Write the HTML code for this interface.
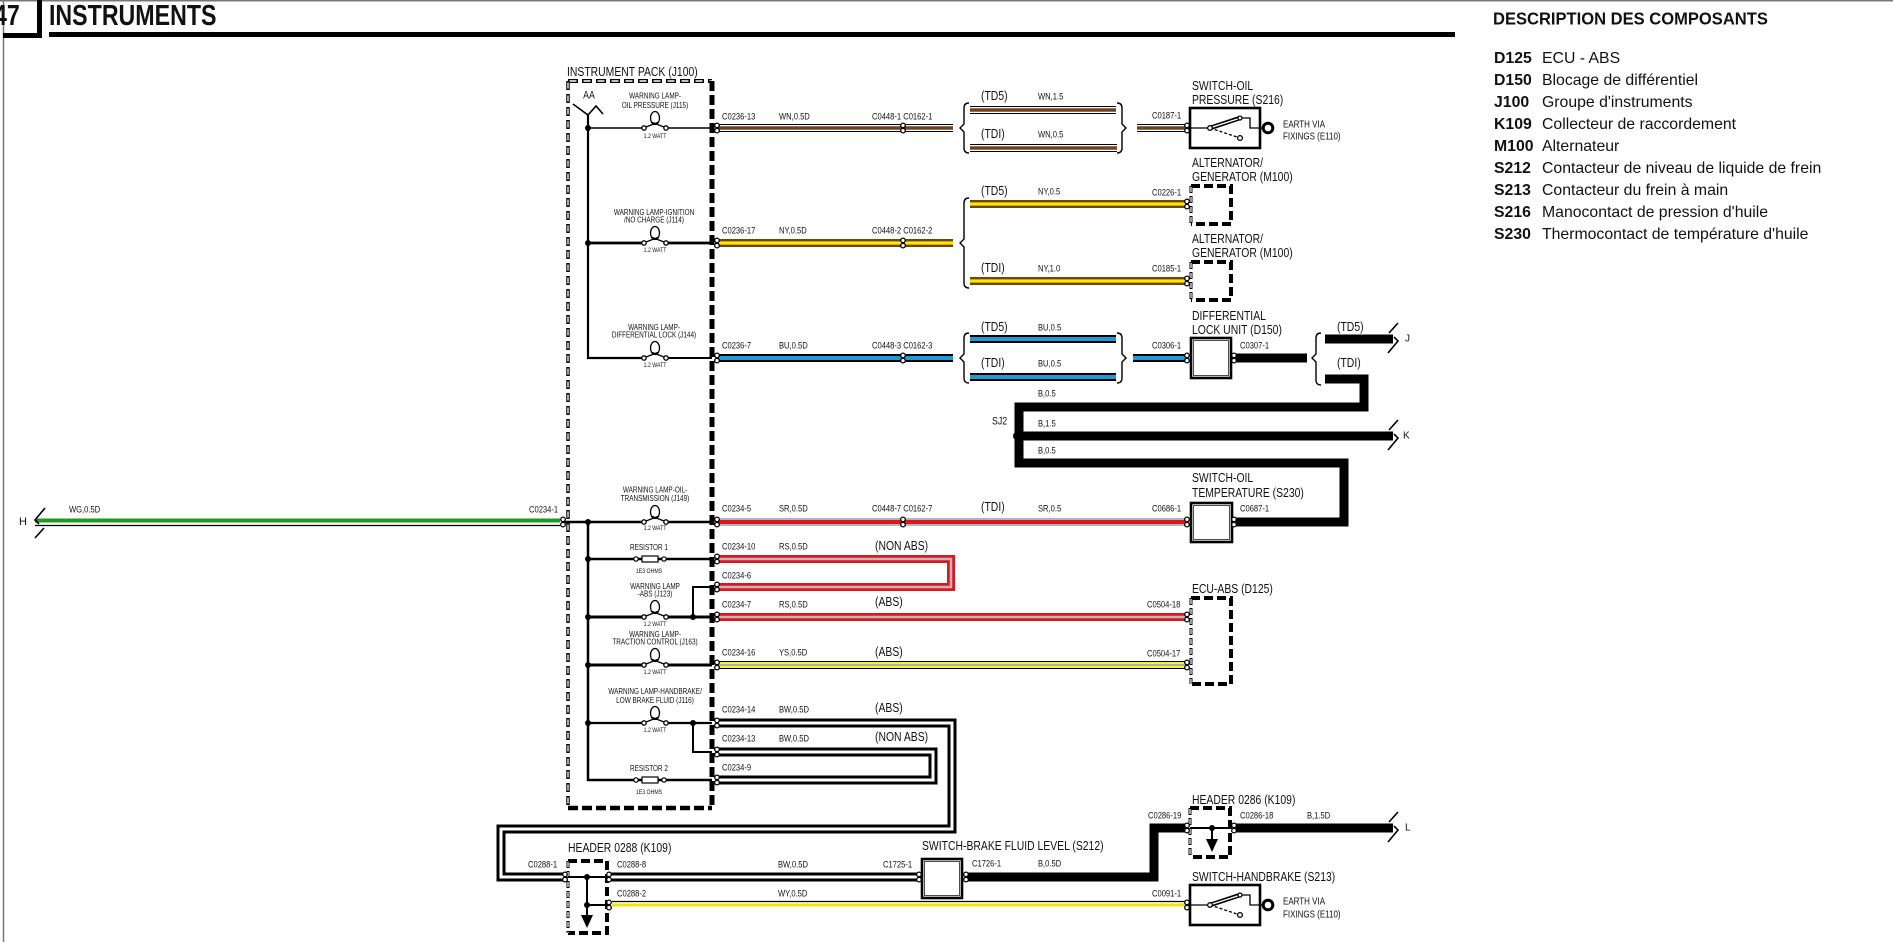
<!DOCTYPE html>
<html><head><meta charset="utf-8">
<style>
html,body{margin:0;padding:0;background:#fff;}
svg{display:block}
text{font-family:"Liberation Sans",Arial,sans-serif;fill:#111;dominant-baseline:central}
.n{transform-box:fill-box;transform-origin:0 50%;transform:scaleX(.8)}
.c{text-anchor:middle;transform-box:fill-box;transform-origin:50% 50%;transform:scaleX(.8)}
.d{transform-box:fill-box;transform-origin:0 50%;transform:scaleX(.92)}
.s9{font-size:9.5px}
.s10{font-size:10px}
.s13{font-size:13px}
.s8{font-size:8px}
.s6{font-size:6.5px}
.li{font-size:15.8px}
.lb{font-size:15.8px;font-weight:bold}
</style></head><body>
<svg width="1893" height="942" viewBox="0 0 1893 942" xmlns="http://www.w3.org/2000/svg">
<defs>
<g id="cn"><circle cx="0" cy="-2.6" r="2.3" fill="#fff" stroke="#000" stroke-width="1.3"/><circle cx="0" cy="2.6" r="2.3" fill="#fff" stroke="#000" stroke-width="1.3"/></g>
<g id="lamp" fill="none" stroke="#000" stroke-width="1.3"><path d="M-9,-1L4,-6M9,-1L-4,-6"/><ellipse cx="0" cy="-10" rx="4.5" ry="6.5"/><circle cx="-11" cy="0" r="2.2" fill="#fff"/><circle cx="11" cy="0" r="2.2" fill="#fff"/></g>
<g id="res" stroke="#000" stroke-width="1.2"><rect x="-8" y="-3" width="16" height="6" fill="#fff"/><circle cx="-14" cy="0" r="2.2" fill="#fff"/><circle cx="14" cy="0" r="2.2" fill="#fff"/></g>
<g id="endL" fill="none" stroke="#000" stroke-width="1.6"><path d="M10,-14L0,-2L4,2M9,6L0,16"/></g>
<g id="endR" fill="none" stroke="#000" stroke-width="1.6"><path d="M-10,14L0,2L-4,-2M-9,-6L0,-16"/></g>
<g id="sw" fill="none" stroke="#000">
<rect x="0" y="-20" width="70" height="40" fill="#fff" stroke-width="2.6"/>
<path d="M0,0H20" stroke-width="1.3"/>
<path d="M20,0L50,-10" stroke-width="4.5"/>
<path d="M21,-0.5L49,-9.5" stroke="#fff" stroke-width="1.4"/>
<path d="M20,0L50,10" stroke-width="1.3" stroke-dasharray="3 2"/>
<circle cx="20" cy="0" r="2.3" fill="#fff" stroke-width="1.3"/>
<circle cx="50" cy="-10" r="2" fill="#fff" stroke-width="1.3"/>
<circle cx="50" cy="10" r="2.4" fill="#fff" stroke-width="1.3"/>
<path d="M52,-10H60V0H73" stroke-width="1.3"/>
<circle cx="78" cy="0" r="4.8" fill="#fff" stroke-width="3"/>
</g>
</defs>
<rect width="1893" height="942" fill="#fff"/>
<path d="M0,0.75H1893" stroke="#777" stroke-width="1.5"/>
<path d="M3.5,0V942" stroke="#777" stroke-width="1.5"/>
<rect x="37" y="0" width="5" height="38" fill="#000"/>
<rect x="3" y="33" width="39" height="5" fill="#000"/>
<rect x="49" y="32" width="1406" height="5" fill="#000"/>
<text x="-6" y="15" class="n" style="font-size:29px;font-weight:bold">47</text>
<text x="49" y="15" class="n" style="font-size:29px;font-weight:bold">INSTRUMENTS</text>

<text x="1493" y="18.5" class="d" style="font-size:18px;font-weight:bold">DESCRIPTION DES COMPOSANTS</text>
<g>
<text x="1494" y="58.5" class="lb">D125</text><text x="1542" y="58.5" class="li">ECU - ABS</text>
<text x="1494" y="80.5" class="lb">D150</text><text x="1542" y="80.5" class="li">Blocage de différentiel</text>
<text x="1494" y="102.5" class="lb">J100</text><text x="1542" y="102.5" class="li">Groupe d'instruments</text>
<text x="1494" y="124.5" class="lb">K109</text><text x="1542" y="124.5" class="li">Collecteur de raccordement</text>
<text x="1494" y="146.5" class="lb">M100</text><text x="1542" y="146.5" class="li">Alternateur</text>
<text x="1494" y="168.5" class="lb">S212</text><text x="1542" y="168.5" class="li">Contacteur de niveau de liquide de frein</text>
<text x="1494" y="190.5" class="lb">S213</text><text x="1542" y="190.5" class="li">Contacteur du frein à main</text>
<text x="1494" y="212.5" class="lb">S216</text><text x="1542" y="212.5" class="li">Manocontact de pression d'huile</text>
<text x="1494" y="234.5" class="lb">S230</text><text x="1542" y="234.5" class="li">Thermocontact de température d'huile</text>
</g>

<g fill="none" stroke-linecap="butt" stroke-linejoin="miter">
<!-- instrument pack internal wiring -->
<g stroke="#000">
<path d="M573,104L588,115L596,106L603,114" stroke-width="1.6"/>
<path d="M588,115V358H644" stroke-width="2.2"/>
<path d="M588,128H644M666,128H712" stroke-width="1.6"/>
<path d="M588,243H644M666,243H712" stroke-width="2.8"/>
<path d="M666,358H712" stroke-width="2"/>
<path d="M563,522H644M666,522H712" stroke-width="2.5"/>
<path d="M588,522V780H712" stroke-width="2.5"/>
<path d="M588,559H712" stroke-width="2.5"/>
<path d="M712,587H693V617" stroke-width="2"/>
<path d="M588,617H644M666,617H712" stroke-width="3"/>
<path d="M588,665H644M666,665H712" stroke-width="3"/>
<path d="M588,723H644M666,723H712" stroke-width="2.2"/>
<path d="M693,723V752H712" stroke-width="2"/>
</g>

<!-- instrument pack box -->
<path d="M568,81H712" stroke="#000" stroke-width="4" stroke-dasharray="10 4"/>
<path d="M568,81H712" stroke="#fff" stroke-width="1.4" stroke-dasharray="7 7" stroke-dashoffset="-1.5"/>
<path d="M568,81V808" stroke="#000" stroke-width="3.5" stroke-dasharray="9 4"/>
<path d="M568,81V808" stroke="#fff" stroke-width="1.3" stroke-dasharray="6 7" stroke-dashoffset="-1.5"/>
<path d="M712,81V808" stroke="#000" stroke-width="5" stroke-dasharray="10 4"/>
<path d="M568,808H712" stroke="#000" stroke-width="4.5" stroke-dasharray="10 4"/>

<!-- WN -->
<path d="M717,128H953M970,110H1116M970,148H1117M1137,128H1185" stroke="#000" stroke-width="8"/>
<path d="M717,128H953M970,110H1116M970,148H1117M1137,128H1185" stroke="#fff" stroke-width="6"/>
<path d="M717,128H953M970,110H1116M970,148H1117M1137,128H1185" stroke="#70431a" stroke-width="3.5"/>
<!-- NY -->
<path d="M717,243H953M970,204H1185M970,281H1185" stroke="#6e4410" stroke-width="8"/>
<path d="M717,243H953M970,204H1185M970,281H1185" stroke="#ffe800" stroke-width="3.2"/>
<!-- BU -->
<path d="M717,358H953M970,339H1116M970,377H1116M1133,358H1185" stroke="#000" stroke-width="8"/>
<path d="M717,358H953M970,339H1116M970,377H1116M1133,358H1185" stroke="#1e9ad6" stroke-width="4"/>
<!-- SR -->
<path d="M717,522H1185" stroke="#a9b7c4" stroke-width="8"/>
<path d="M717,522H1185" stroke="#e3141b" stroke-width="4"/>
<!-- RS -->
<path d="M717,559H951V587H717M717,617H1185" stroke="#e3141b" stroke-width="8"/>
<path d="M717,559H951V587H717M717,617H1185" stroke="#b9b9c0" stroke-width="2.5"/>
<!-- YS -->
<path d="M717,665H1185" stroke="#000" stroke-width="8"/>
<path d="M717,665H1185" stroke="#f5f03a" stroke-width="6"/>
<path d="M717,665H1185" stroke="#a8b0b8" stroke-width="2"/>
<!-- BW -->
<path d="M717,723H952V829H501V877H565M717,752H933V780H717M609,877H919" stroke="#000" stroke-width="9"/>
<path d="M717,723H952V829H501V877H565M717,752H933V780H717M609,877H919" stroke="#fff" stroke-width="3"/>
<!-- B thick -->
<path d="M1236,358H1307M1325,339H1393M1325,379H1364V407H1019V463H1344V522H1236M1019,436H1393M966,877H1154V828H1187M1236,828H1393" stroke="#000" stroke-width="9"/>
<!-- WG -->
<path d="M35,520.5H560" stroke="#1f9a1f" stroke-width="4"/>
<path d="M35,525.5H560" stroke="#000" stroke-width="1.3"/>
<!-- WY -->
<path d="M612,901.5H1185" stroke="#000" stroke-width="1.2"/>
<path d="M612,905H1185" stroke="#f2e600" stroke-width="3"/>

<!-- braces -->
<g stroke="#000" stroke-width="1.4">
<path d="M969,103Q964,103 964,108V124L960,128L964,132V148Q964,153 969,153"/>
<path d="M1117,103Q1122,103 1122,108V124L1126,128L1122,132V148Q1122,153 1117,153"/>
<path d="M969,198Q964,198 964,203V239L960,243L964,247V283Q964,288 969,288"/>
<path d="M969,333Q964,333 964,338V354L960,358L964,362V378Q964,383 969,383"/>
<path d="M1117,333Q1122,333 1122,338V354L1126,358L1122,362V378Q1122,383 1117,383"/>
<path d="M1321,333Q1316,333 1316,338V354L1312,358L1316,362V380Q1316,385 1321,385"/>
</g>

<!-- dashed component boxes -->
<g stroke="#000">
<path d="M1191,186H1231V224H1191" stroke-width="4" stroke-dasharray="9 4"/>
<path d="M1191,262H1231V300H1191" stroke-width="4" stroke-dasharray="9 4"/>
<path d="M1191,598H1231V684H1191" stroke-width="4" stroke-dasharray="9 4"/>
<path d="M568,861H607V933H568" stroke-width="4" stroke-dasharray="9 4"/>
<path d="M1190,808H1230V857H1190" stroke-width="4" stroke-dasharray="9 4"/>
<path d="M1191,186V224M1191,262V300M1191,598V684M568,861V933M1190,808V857" stroke-width="3" stroke-dasharray="7 3"/>
</g>
<path d="M1191,186V224M1191,262V300M1191,598V684M568,861V933M1190,808V857" stroke="#fff" stroke-width="1.2" stroke-dasharray="5 5" stroke-dashoffset="-1"/>

<!-- solid boxes -->
<rect x="1191" y="338" width="40" height="40" fill="#fff" stroke="#000" stroke-width="2.6"/>
<rect x="1191" y="503" width="41" height="39" fill="#fff" stroke="#000" stroke-width="2.6"/>
<rect x="922" y="859" width="40" height="39" fill="#fff" stroke="#000" stroke-width="2.6"/>
<rect x="1193.5" y="340.5" width="35" height="35" stroke="#000" stroke-width="0.7"/>
<rect x="1193.5" y="505.5" width="36" height="34" stroke="#000" stroke-width="0.7"/>
<rect x="924.5" y="861.5" width="35" height="34" stroke="#000" stroke-width="0.7"/>

<!-- header internals -->
<path d="M568,877H607M587,877V918M587,905H607" stroke="#000" stroke-width="2"/>
<path d="M1190,828H1230M1212,828V840" stroke="#000" stroke-width="2"/>
</g>

<polygon points="581,915 593,915 587,928" fill="#000"/>
<polygon points="1206,839 1218,839 1212,852" fill="#000"/>

<!-- switches -->
<use href="#sw" x="1190" y="128"/>
<use href="#sw" x="1190" y="905"/>

<!-- lamps and resistors -->
<use href="#lamp" x="655" y="128"/>
<use href="#lamp" x="655" y="243"/>
<use href="#lamp" x="655" y="358"/>
<use href="#lamp" x="655" y="522"/>
<use href="#lamp" x="655" y="617"/>
<use href="#lamp" x="655" y="665"/>
<use href="#lamp" x="655" y="723"/>
<use href="#res" x="650" y="559"/>
<use href="#res" x="650" y="780"/>

<!-- junction dots -->
<g fill="#000">
<circle cx="588" cy="128" r="3"/><circle cx="588" cy="243" r="3"/><circle cx="588" cy="522" r="3"/>
<circle cx="588" cy="559" r="3"/><circle cx="588" cy="617" r="3"/><circle cx="588" cy="665" r="3"/>
<circle cx="588" cy="723" r="3"/><circle cx="693" cy="617" r="3"/><circle cx="693" cy="723" r="3"/>
<circle cx="1017" cy="436" r="4"/><circle cx="587" cy="877" r="3"/><circle cx="587" cy="905" r="3"/>
<circle cx="1212" cy="828" r="3"/>
</g>

<!-- connectors -->
<use href="#cn" x="717" y="128"/><use href="#cn" x="903" y="128"/><use href="#cn" x="1187" y="128"/>
<use href="#cn" x="717" y="243"/><use href="#cn" x="903" y="243"/><use href="#cn" x="1187" y="204"/><use href="#cn" x="1187" y="281"/>
<use href="#cn" x="717" y="358"/><use href="#cn" x="903" y="358"/><use href="#cn" x="1187" y="358"/><use href="#cn" x="1234" y="358"/>
<use href="#cn" x="563" y="522"/><use href="#cn" x="717" y="522"/><use href="#cn" x="903" y="522"/><use href="#cn" x="1187" y="522"/><use href="#cn" x="1234" y="522"/>
<use href="#cn" x="717" y="559"/><use href="#cn" x="717" y="587"/><use href="#cn" x="717" y="617"/><use href="#cn" x="1187" y="617"/>
<use href="#cn" x="717" y="665"/><use href="#cn" x="1187" y="665"/>
<use href="#cn" x="717" y="723"/><use href="#cn" x="717" y="752"/><use href="#cn" x="717" y="780"/>
<use href="#cn" x="565" y="877"/><use href="#cn" x="609" y="877"/><use href="#cn" x="609" y="905"/>
<use href="#cn" x="919" y="877"/><use href="#cn" x="966" y="877"/>
<use href="#cn" x="1187" y="828"/><use href="#cn" x="1234" y="828"/><use href="#cn" x="1187" y="905"/>

<!-- wire end symbols -->
<use href="#endL" x="35" y="522"/>
<use href="#endR" x="1398" y="339"/>
<use href="#endR" x="1398" y="436"/>
<use href="#endR" x="1398" y="828"/>

<!-- connector / wire labels -->
<g class="s9">
<text class="n s9" x="722" y="116">C0236-13</text><text class="n s9" x="779" y="116">WN,0.5D</text><text class="n s9" x="872" y="116">C0448-1 C0162-1</text>
<text class="n s9" x="722" y="230">C0236-17</text><text class="n s9" x="779" y="230">NY,0.5D</text><text class="n s9" x="872" y="230">C0448-2 C0162-2</text>
<text class="n s9" x="722" y="345">C0236-7</text><text class="n s9" x="779" y="345">BU,0.5D</text><text class="n s9" x="872" y="345">C0448-3 C0162-3</text>
<text class="n s9" x="1038" y="96">WN,1.5</text><text class="n s9" x="1038" y="134">WN,0.5</text><text class="n s9" x="1152" y="115">C0187-1</text>
<text class="n s9" x="1038" y="191">NY,0.5</text><text class="n s9" x="1152" y="192">C0226-1</text>
<text class="n s9" x="1038" y="268">NY,1.0</text><text class="n s9" x="1152" y="268">C0185-1</text>
<text class="n s9" x="1038" y="327">BU,0.5</text><text class="n s9" x="1038" y="363">BU,0.5</text>
<text class="n s9" x="1152" y="345">C0306-1</text><text class="n s9" x="1240" y="345">C0307-1</text>
<text class="n s9" x="1038" y="393">B,0.5</text><text class="n s9" x="1038" y="423">B,1.5</text><text class="n s9" x="1038" y="450">B,0.5</text>
<text class="n s9" x="722" y="508">C0234-5</text><text class="n s9" x="779" y="508">SR,0.5D</text><text class="n s9" x="872" y="508">C0448-7 C0162-7</text>
<text class="n s9" x="1038" y="508">SR,0.5</text><text class="n s9" x="1152" y="508">C0686-1</text><text class="n s9" x="1240" y="508">C0687-1</text>
<text class="n s9" x="69" y="509">WG,0.5D</text><text class="n s9" x="529" y="509">C0234-1</text>
<text class="n s9" x="722" y="546">C0234-10</text><text class="n s9" x="779" y="546">RS,0.5D</text>
<text class="n s9" x="722" y="575">C0234-6</text>
<text class="n s9" x="722" y="604">C0234-7</text><text class="n s9" x="779" y="604">RS,0.5D</text><text class="n s9" x="1147" y="604">C0504-18</text>
<text class="n s9" x="722" y="652">C0234-16</text><text class="n s9" x="779" y="652">YS,0.5D</text><text class="n s9" x="1147" y="653">C0504-17</text>
<text class="n s9" x="722" y="709">C0234-14</text><text class="n s9" x="779" y="709">BW,0.5D</text>
<text class="n s9" x="722" y="738">C0234-13</text><text class="n s9" x="779" y="738">BW,0.5D</text>
<text class="n s9" x="722" y="767">C0234-9</text>
<text class="n s9" x="528" y="864">C0288-1</text><text class="n s9" x="617" y="864">C0288-8</text><text class="n s9" x="778" y="864">BW,0.5D</text>
<text class="n s9" x="883" y="864">C1725-1</text><text class="n s9" x="972" y="863">C1726-1</text><text class="n s9" x="1038" y="863">B,0.5D</text>
<text class="n s9" x="617" y="893">C0288-2</text><text class="n s9" x="778" y="893">WY,0.5D</text><text class="n s9" x="1152" y="893">C0091-1</text>
<text class="n s9" x="1148" y="815">C0286-19</text><text class="n s9" x="1240" y="815">C0286-18</text><text class="n s9" x="1307" y="815">B,1.5D</text>
</g>

<!-- component labels -->
<text class="n s13" x="567" y="72">INSTRUMENT PACK (J100)</text>
<text class="n s13" x="1192" y="86">SWITCH-OIL</text><text class="n s13" x="1192" y="100">PRESSURE (S216)</text>
<text class="n s13" x="1192" y="163">ALTERNATOR/</text><text class="n s13" x="1192" y="177">GENERATOR (M100)</text>
<text class="n s13" x="1192" y="239">ALTERNATOR/</text><text class="n s13" x="1192" y="253">GENERATOR (M100)</text>
<text class="n s13" x="1192" y="316">DIFFERENTIAL</text><text class="n s13" x="1192" y="330">LOCK UNIT (D150)</text>
<text class="n s13" x="1192" y="478">SWITCH-OIL</text><text class="n s13" x="1192" y="493">TEMPERATURE (S230)</text>
<text class="n s13" x="1192" y="589">ECU-ABS (D125)</text>
<text class="n s13" x="1192" y="800">HEADER 0286 (K109)</text>
<text class="n s13" x="1192" y="877">SWITCH-HANDBRAKE (S213)</text>
<text class="n s13" x="568" y="848">HEADER 0288 (K109)</text>
<text class="n s13" x="922" y="846">SWITCH-BRAKE FLUID LEVEL (S212)</text>
<text class="n s13" x="981" y="96">(TD5)</text><text class="n s13" x="981" y="134">(TDI)</text>
<text class="n s13" x="981" y="191">(TD5)</text><text class="n s13" x="981" y="268">(TDI)</text>
<text class="n s13" x="981" y="327">(TD5)</text><text class="n s13" x="981" y="363">(TDI)</text>
<text class="n s13" x="1337" y="327">(TD5)</text><text class="n s13" x="1337" y="363">(TDI)</text>
<text class="n s13" x="981" y="507">(TDI)</text>
<text class="n s13" x="875" y="546">(NON ABS)</text><text class="n s13" x="875" y="602">(ABS)</text>
<text class="n s13" x="875" y="652">(ABS)</text><text class="n s13" x="875" y="708">(ABS)</text>
<text class="n s13" x="875" y="737">(NON ABS)</text>

<text class="n s10" x="1283" y="124">EARTH VIA</text><text class="n s10" x="1283" y="136">FIXINGS (E110)</text>
<text class="n s10" x="1283" y="901">EARTH VIA</text><text class="n s10" x="1283" y="914">FIXINGS (E110)</text>

<text class="n" x="992" y="422" style="font-size:11px">SJ2</text>
<text x="19" y="522" style="font-size:11px">H</text>
<text x="1405" y="339" style="font-size:10px">J</text>
<text x="1403" y="436" style="font-size:10px">K</text>
<text x="1405" y="828" style="font-size:10px">L</text>
<text class="c" x="589" y="96" style="font-size:11px">AA</text>

<!-- lamp labels -->
<text class="c s8" x="655" y="96">WARNING LAMP-</text><text class="c s8" x="655" y="105">OIL PRESSURE (J115)</text><text class="c s6" x="655" y="137">1.2 WATT</text>
<text class="c s8" x="654" y="212">WARNING LAMP-IGNITION</text><text class="c s8" x="654" y="220">/NO CHARGE (J114)</text><text class="c s6" x="655" y="251">1.2 WATT</text>
<text class="c s8" x="654" y="327">WARNING LAMP-</text><text class="c s8" x="654" y="335">DIFFERENTIAL LOCK (J144)</text><text class="c s6" x="655" y="366">1.2 WATT</text>
<text class="c s8" x="655" y="490">WARNING LAMP-OIL-</text><text class="c s8" x="655" y="498">TRANSMISSION (J149)</text><text class="c s6" x="655" y="529">1.2 WATT</text>
<text class="c s8" x="649" y="547">RESISTOR 1</text><text class="c s6" x="649" y="572">1E3 OHMS</text>
<text class="c s8" x="655" y="586">WARNING LAMP</text><text class="c s8" x="655" y="594">-ABS (J123)</text><text class="c s6" x="655" y="625">1.2 WATT</text>
<text class="c s8" x="655" y="634">WARNING LAMP-</text><text class="c s8" x="655" y="642">TRACTION CONTROL (J163)</text><text class="c s6" x="655" y="673">1.2 WATT</text>
<text class="c s8" x="655" y="691">WARNING LAMP-HANDBRAKE/</text><text class="c s8" x="655" y="700">LOW BRAKE FLUID (J116)</text><text class="c s6" x="655" y="731">1.2 WATT</text>
<text class="c s8" x="649" y="768">RESISTOR 2</text><text class="c s6" x="649" y="793">1E3 OHMS</text>
</svg>
</body></html>
